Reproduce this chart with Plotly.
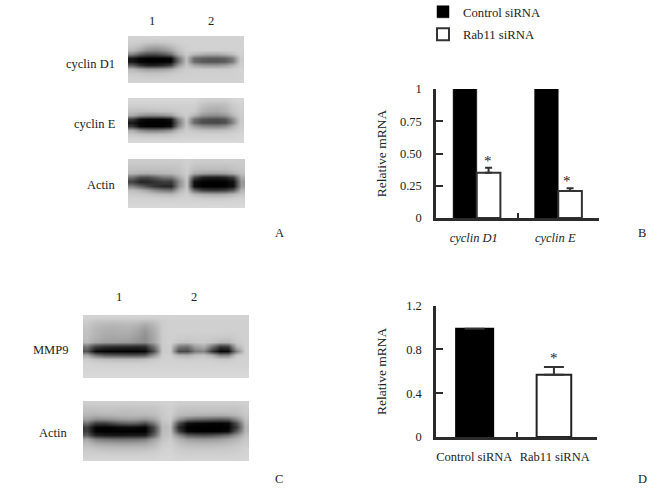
import plotly.graph_objects as go

W, H = 667, 488
FONT = "Liberation Serif"
INK = "#2b2b2b"

# ---- mRNA data ----
GENE_LABELS = ["<i>cyclin D1</i>", "<i>cyclin E</i>"]
CONTROL_B = [1.0, 1.0]
RAB11_B = [0.35, 0.21]
RAB11_B_ERR = [0.04, 0.02]
Y_TICKS_B = [0, 0.25, 0.5, 0.75, 1]
Y_TEXT_B = ["0", "0.25", "0.50", "0.75", "1"]

GROUP_LABELS = ["Control siRNA", "Rab11 siRNA"]
VALUES_D = [0.99, 0.57]
ERR_D = [0, 0.07]
Y_TICKS_D = [0, 0.4, 0.8, 1.2]
Y_TEXT_D = ["0", "0.4", "0.8", "1.2"]

# ---- blot densitometry, grey levels ----
CYCLIN_D1 = [
    [210,210,210,210,210,210,210,210,210,210,210,210,210,210,210],
    [206,204,200,198,200,204,208,210,210,210,210,210,210,210,210],
    [198,190,174,168,174,186,200,208,210,210,210,210,210,210,210],
    [186,166,142,136,144,162,192,206,208,208,208,208,208,208,210],
    [130,96,76,74,86,110,172,202,184,174,168,168,176,190,208],
    [24,6,2,2,2,6,112,192,108,96,90,90,98,126,202],
    [20,2,0,0,0,2,104,192,104,88,84,84,92,120,202],
    [92,52,32,32,42,64,152,198,168,154,150,150,158,180,206],
    [184,168,158,158,162,172,194,204,204,204,204,204,204,206,210],
    [200,198,194,194,196,200,204,206,208,208,208,208,208,208,210],
    [208,206,204,204,204,206,208,208,208,208,208,208,208,208,210],
    [210,210,210,210,210,210,210,210,210,210,210,210,210,210,210],
]
CYCLIN_E = [
    [214,214,214,214,214,214,214,214,214,208,206,206,206,212,214],
    [208,208,208,208,208,208,208,208,208,196,190,188,192,204,210],
    [202,202,202,204,204,204,206,206,206,188,180,178,184,200,208],
    [192,190,190,192,194,196,202,206,202,180,172,170,178,196,206],
    [172,150,140,140,146,158,190,204,182,152,142,140,150,182,204],
    [60,16,6,6,6,18,130,198,112,84,78,76,86,140,202],
    [20,2,0,0,0,4,112,196,104,76,72,70,78,130,202],
    [56,10,2,2,4,14,134,198,160,140,134,132,142,176,204],
    [170,140,124,122,128,144,184,204,196,190,188,188,190,198,208],
    [200,194,190,190,192,196,204,208,208,208,208,208,208,210,212],
    [210,208,208,208,208,208,210,212,212,212,212,212,212,212,214],
    [216,216,216,216,216,216,216,216,216,216,216,216,216,216,216],
]
ACTIN_A = [
    [204,204,204,204,204,204,204,208,204,204,204,204,204,204,204],
    [198,198,198,198,198,198,200,208,198,196,196,196,196,198,202],
    [192,192,192,192,192,192,196,206,190,188,188,188,188,192,198],
    [182,176,174,178,182,184,192,206,172,162,158,158,162,174,192],
    [114,80,78,96,118,124,170,202,76,36,30,30,36,66,172],
    [64,36,38,50,60,58,142,200,14,2,0,0,2,16,152],
    [132,100,74,52,40,38,148,200,14,0,0,0,2,16,154],
    [190,178,162,138,122,116,178,204,104,64,56,56,62,90,180],
    [202,200,196,190,186,184,198,208,184,174,170,168,172,182,198],
    [210,210,208,208,206,206,208,210,206,204,202,202,202,206,208],
    [212,212,212,212,212,212,212,212,212,212,212,212,212,212,212],
    [216,216,216,216,216,216,216,216,216,216,216,216,216,216,216],
]
MMP9 = [
    [210,210,210,210,210,210,210,210,210,210,210,210,210,210,210,210,210,210,210,210],
    [204,196,194,192,194,196,194,188,194,204,208,208,208,208,208,208,208,208,208,208],
    [198,186,182,180,182,182,176,166,180,204,208,208,208,208,208,208,208,208,208,208],
    [194,182,176,174,176,176,166,152,174,204,208,208,208,208,208,208,208,208,208,208],
    [192,180,172,170,172,170,160,146,170,204,208,206,206,206,206,206,206,204,206,208],
    [190,176,168,166,166,164,154,142,168,204,208,204,202,204,204,202,198,196,204,208],
    [184,168,160,158,156,154,146,140,166,204,208,198,194,200,202,196,186,184,202,208],
    [116,60,46,42,40,38,36,42,110,204,206,122,110,158,172,112,52,60,180,208],
    [84,10,4,2,2,2,2,6,76,202,204,72,70,122,132,52,6,10,132,208],
    [170,118,96,90,88,86,86,94,150,206,208,182,176,192,196,176,134,136,200,208],
    [204,194,188,186,186,186,186,190,200,208,210,206,204,206,206,204,200,200,208,210],
    [210,208,206,206,206,206,206,206,208,210,210,210,210,210,210,210,208,208,210,210],
    [212,212,212,212,212,212,212,212,212,212,212,212,212,212,212,212,212,212,212,212],
    [214,214,214,214,214,214,214,214,214,214,214,214,214,214,214,214,214,214,214,214],
    [216,216,216,216,216,216,216,216,216,216,216,216,216,216,216,216,216,216,216,216],
]
ACTIN_C = [
    [206,206,206,206,206,206,206,206,206,208,210,206,206,206,206,206,206,206,206,208],
    [196,196,198,198,196,196,198,198,198,204,208,200,198,198,198,198,198,198,198,204],
    [190,190,192,192,190,190,192,192,194,202,208,194,192,192,192,192,192,192,194,202],
    [180,176,178,180,182,184,184,182,186,200,206,184,180,176,174,172,172,174,182,198],
    [160,140,142,148,154,158,156,148,164,198,204,150,116,104,100,94,90,96,140,192],
    [110,60,58,72,90,96,92,74,120,192,198,76,16,8,6,4,4,8,80,184],
    [60,4,2,4,10,12,8,4,70,186,192,40,2,0,0,0,0,2,60,178],
    [60,2,0,0,0,0,0,0,68,186,194,64,6,2,0,0,2,10,92,182],
    [92,36,26,24,24,26,26,30,96,190,198,138,92,82,78,84,96,112,150,192],
    [166,130,120,116,114,114,116,124,160,196,204,178,160,154,152,154,160,168,182,200],
    [186,168,162,160,158,158,160,164,180,202,208,192,182,180,180,180,182,186,194,204],
    [196,190,186,184,184,184,184,186,192,206,210,200,196,194,194,194,196,198,202,208],
    [204,202,200,198,198,198,198,200,204,210,212,206,204,204,204,204,204,204,206,210],
    [208,208,208,208,208,208,208,208,208,212,214,210,208,208,208,208,208,208,210,212],
    [212,212,212,212,212,212,212,212,212,214,214,212,212,212,212,212,212,212,212,214],
]


def fx(px):
    return px / W


def fy(py):
    return 1 - py / H


fig = go.Figure()

# ---- Panel B ----
fig.add_bar(name="Control siRNA", x=GENE_LABELS, y=CONTROL_B, xaxis="x", yaxis="y",
            marker=dict(color="black", line=dict(color="black", width=0.5)),
            legendgroup="a")
fig.add_bar(name="Rab11 siRNA", x=GENE_LABELS, y=RAB11_B, xaxis="x", yaxis="y",
            marker=dict(color="white", line=dict(color="#333333", width=2)),
            error_y=dict(type="data", symmetric=False, array=RAB11_B_ERR,
                         arrayminus=[0, 0], color="#333333", thickness=2, width=3.5),
            legendgroup="b")

# ---- Panel D ----
fig.add_bar(x=GROUP_LABELS, y=VALUES_D, xaxis="x2", yaxis="y2", showlegend=False,
            width=[0.46, 0.43], offset=[-0.25, -0.25],
            marker=dict(color=["black", "white"],
                        line=dict(color=["black", "#222222"], width=2)),
            error_y=dict(type="data", symmetric=False, array=ERR_D,
                         arrayminus=[0, 0], color="#333333", thickness=2, width=10))

# ---- Blots ----
blots = [
    (CYCLIN_D1, 128, 244, 36, 83),
    (CYCLIN_E, 128, 244, 98, 143),
    (ACTIN_A, 128, 245, 159, 208),
    (MMP9, 83, 249, 315, 378),
    (ACTIN_C, 83, 249, 401, 461),
]
layout_axes = {}
for i, (grid, x0, x1, y0, y1) in enumerate(blots):
    n = i + 3
    fig.add_heatmap(z=grid, xaxis=f"x{n}", yaxis=f"y{n}", zmin=0, zmax=255, zsmooth="best",
                    colorscale=[[0, "black"], [1, "white"]], showscale=False, hoverinfo="skip")
    layout_axes[f"xaxis{n}"] = dict(domain=[fx(x0), fx(x1)], visible=False, anchor=f"y{n}",
                                    range=[-0.5, len(grid[0]) - 0.5], fixedrange=True)
    layout_axes[f"yaxis{n}"] = dict(domain=[fy(y1), fy(y0)], visible=False, anchor=f"x{n}",
                                    range=[len(grid) - 0.5, -0.5], fixedrange=True)

axis_style = dict(showline=True, linecolor=INK, linewidth=2.5, ticks="inside",
                  tickcolor=INK, tickwidth=2, showgrid=False, zeroline=False,
                  tickfont=dict(family=FONT, size=12.5, color="#222222"))
title_font = dict(family=FONT, size=13.5, color="#222222")

layout = dict(
    width=W, height=H, margin=dict(l=0, r=0, t=0, b=0, autoexpand=False),
    paper_bgcolor="white", plot_bgcolor="white",
    font=dict(family=FONT, size=12, color="#222222"),
    barmode="group", bargap=0.42, bargroupgap=0,
    showlegend=True,
    legend=dict(x=fx(423), y=fy(-3), xanchor="left", yanchor="top",
                font=dict(family=FONT, size=12.7, color="#222222"),
                bgcolor="rgba(0,0,0,0)", traceorder="grouped", tracegroupgap=3),
    xaxis=dict(domain=[fx(436), fx(599)], anchor="y", tickson="boundaries", ticklen=5,
               range=[-0.5, 1.5], ticklabelstandoff=6, ticklabelshift=-3, **axis_style),
    yaxis=dict(domain=[fy(218), fy(89)], anchor="x", range=[0, 1], tickvals=Y_TICKS_B,
               ticktext=Y_TEXT_B, ticklen=7, ticklabelstandoff=9,
               title=dict(text="Relative mRNA", standoff=11, font=title_font),
               **axis_style),
    xaxis2=dict(domain=[fx(436), fx(597)], anchor="y2", tickson="boundaries", ticklen=5,
                range=[-0.5, 1.5], ticklabelstandoff=6, ticklabelshift=-2, tickangle=0,
                **axis_style),
    yaxis2=dict(domain=[fy(437), fy(305.7)], anchor="x2", range=[0, 1.2], tickvals=Y_TICKS_D,
                ticktext=Y_TEXT_D, ticklen=7, ticklabelstandoff=9,
                title=dict(text="Relative mRNA", standoff=17, font=title_font),
                **axis_style),
    **layout_axes,
)
fig.update_layout(**layout)


def note(text, x, y, xanchor="center", size=12.5, **kw):
    fig.add_annotation(text=text, x=fx(x), y=fy(y), xref="paper", yref="paper",
                       xanchor=xanchor, yanchor="middle", showarrow=False,
                       font=dict(family=FONT, size=size, color="#222222"), **kw)


for text, x, y in [("1", 152, 21), ("2", 211, 21), ("1", 119, 297), ("2", 194, 297),
                   ("A", 279, 233), ("B", 642, 233), ("C", 279, 479), ("D", 642, 479)]:
    note(text, x, y)
for text, x, y in [("cyclin D1", 117, 64), ("cyclin E", 118, 124), ("Actin", 118, 185),
                   ("MMP9", 70, 350), ("Actin", 70, 433)]:
    note(text, x, y, xanchor="right")
for x, y in [(488, 161), (567, 181), (554, 358)]:
    note("*", x, y, size=15)

fig.write_html("out.html", config=dict(displayModeBar=False),
               post_script="document.body.style.margin='0';document.documentElement.style.overflow='hidden';")
